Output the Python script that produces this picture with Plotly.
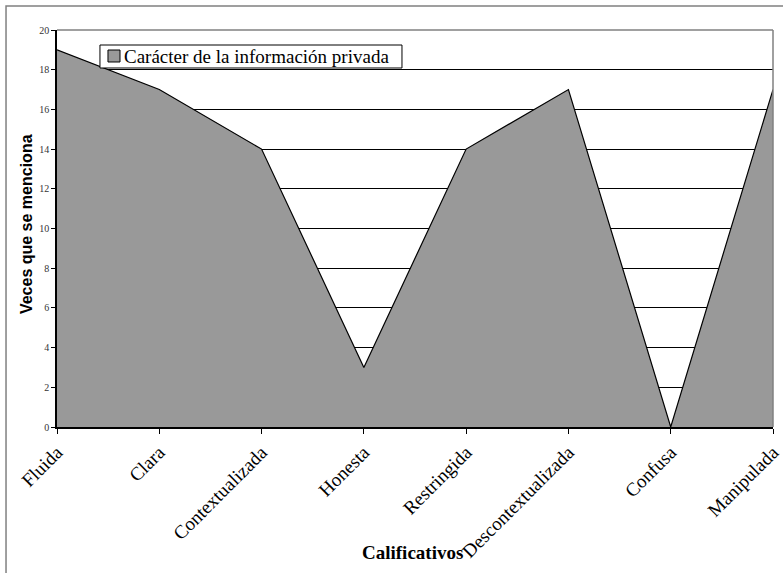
import plotly.graph_objects as go

categorias = ["Fluida", "Clara", "Contextualizada", "Honesta", "Restringida",
              "Descontextualizada", "Confusa", "Manipulada"]
menciones = [19, 17, 14, 3, 14, 17, 0, 17]
serie = "Carácter de la información privada"

SERIF = "Liberation Serif, Times New Roman, serif"
SANS = "Liberation Sans, Arial, sans-serif"

fig = go.Figure()
fig.add_trace(go.Scatter(
    x=categorias, y=menciones, name=serie,
    mode="lines", fill="tozeroy",
    fillcolor="#999999",
    line=dict(color="#000000", width=1.2),
    showlegend=False,
))

fig.update_layout(
    width=783, height=573,
    margin=dict(l=57, r=10, t=30, b=146),
    paper_bgcolor="white", plot_bgcolor="white",
    font=dict(family=SERIF, color="#000000"),
    showlegend=False,
    xaxis=dict(
        type="category", range=[0, 7], automargin=False,
        showgrid=False, zeroline=False,
        showline=True, linecolor="#000000", linewidth=1.5,
        ticks="outside", ticklen=5, tickcolor="#000000",
        tickangle=-45,
        tickfont=dict(family=SERIF, size=19, color="#000000"),
    ),
    yaxis=dict(
        range=[0, 20], dtick=2, automargin=False,
        showgrid=True, gridcolor="#000000", gridwidth=1,
        zeroline=False,
        showline=True, linecolor="#000000", linewidth=1.5,
        ticks="outside", ticklen=4, tickcolor="#000000",
        tickfont=dict(family=SERIF, size=10, color="#333333"),
    ),
    annotations=[
        dict(text="<b>Calificativos</b>", xref="paper", yref="paper",
             x=0.496, y=-0.315, xanchor="center", yanchor="middle",
             showarrow=False,
             font=dict(family=SERIF, size=19, color="#000000")),
        dict(text="<b>Veces que se menciona</b>", xref="paper", yref="paper",
             x=-0.0425, y=0.51, xanchor="center", yanchor="middle",
             showarrow=False, textangle=-90,
             font=dict(family=SANS, size=16, color="#000000")),
        # legend label
        dict(text=serie, xref="paper", yref="paper",
             x=0.0905, y=0.933, xanchor="left", yanchor="middle",
             showarrow=False,
             font=dict(family=SERIF, size=19, color="#000000")),
    ],
)

# top and right frame of the plot area
fig.add_shape(type="line", xref="paper", yref="paper", x0=0, x1=1, y0=1, y1=1,
              line=dict(color="#808080", width=1.5))
fig.add_shape(type="line", xref="paper", yref="paper", x0=1, x1=1, y0=0, y1=1,
              line=dict(color="#808080", width=1.5))
# outer chart border
fig.add_shape(type="rect", xref="paper", yref="paper",
              x0=-0.0712, x1=1.03, y0=-0.40, y1=1.0605,
              line=dict(color="#808080", width=1.5), fillcolor="rgba(0,0,0,0)")
# legend box and its swatch
fig.add_shape(type="rect", xref="paper", yref="paper", layer="above",
              x0=0.060, x1=0.4818, y0=0.9043, y1=0.9622,
              line=dict(color="#000000", width=1), fillcolor="white")
fig.add_shape(type="rect", xref="paper", yref="paper", layer="above",
              x0=0.0712, x1=0.0880, y0=0.9194, y1=0.9496,
              line=dict(color="#000000", width=1), fillcolor="#999999")

fig.write_html("out.html")
